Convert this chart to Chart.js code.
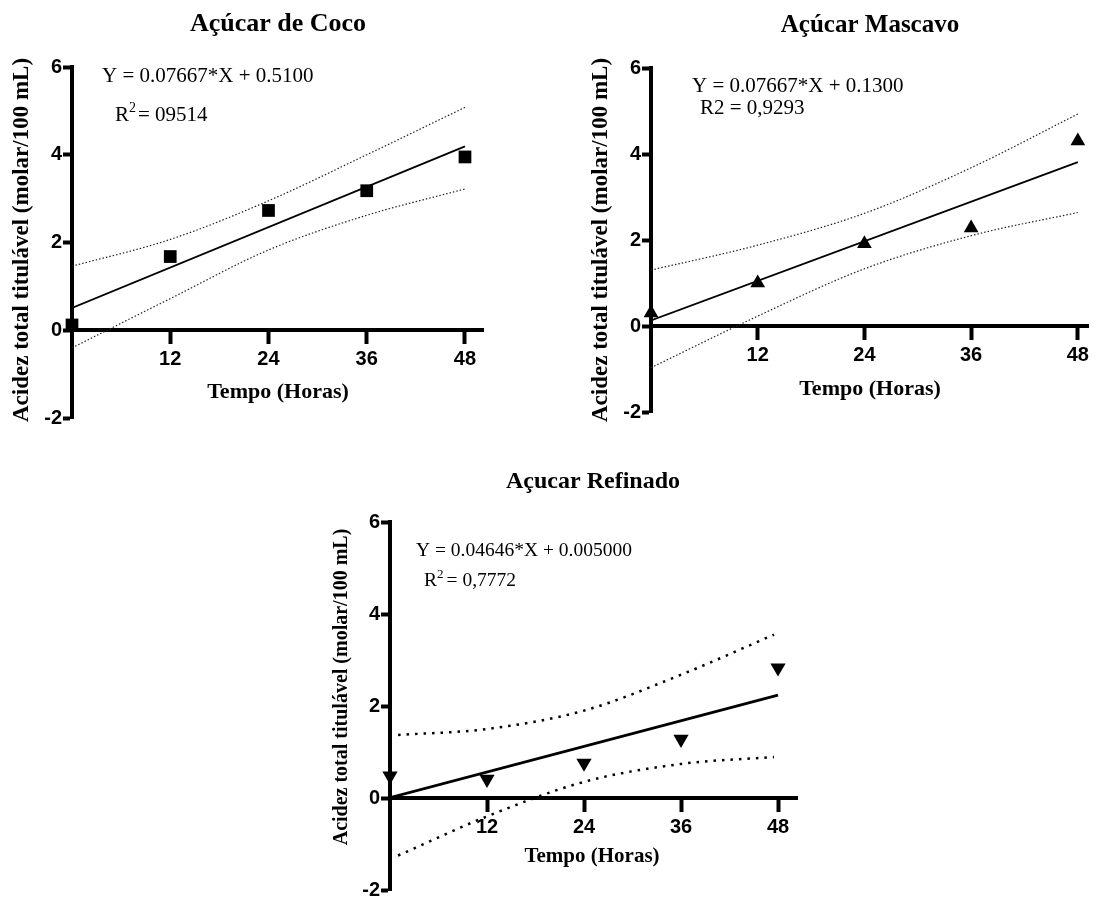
<!DOCTYPE html>
<html>
<head>
<meta charset="utf-8">
<script src="https://cdn.jsdelivr.net/npm/chart.js@4.4.0/dist/chart.umd.min.js"></script>
<style>
  html, body { margin: 0; padding: 0; background: #fff; overflow: hidden; }
  body { width: 1097px; height: 898px; position: relative; }
  canvas { position: absolute; }
</style>
</head>
<body>
<canvas id="coco" width="500" height="440" style="left:0;top:0"></canvas>
<canvas id="mascavo" width="542" height="440" style="left:555px;top:0"></canvas>
<canvas id="refinado" width="520" height="470" style="left:300px;top:440px"></canvas>
<script>
// shared axes
const hours = [0, 12, 24, 36, 48];
const fitX = [0, 48];
const xTicks = [12, 24, 36, 48];
const yTicks = [-2, 0, 2, 4, 6];

// Açúcar de Coco
const cocoAcid = [0.12, 1.68, 2.73, 3.18, 3.95];
const cocoFit = [0.51, 4.19];
const cocoBandX = [0, 12, 24, 36, 48];
const cocoUpper = [1.46, 2.07, 2.95, 4.00, 5.08];
const cocoLower = [-0.40, 0.72, 1.83, 2.62, 3.22];

// Açúcar Mascavo
const mascavoAcid = [0.30, 1.00, 1.91, 2.28, 4.30];
const mascavoFit = [0.13, 3.81];
const mascavoBandX = [0, 12, 24, 36, 48];
const mascavoUpper = [1.30, 1.88, 2.62, 3.68, 4.93];
const mascavoLower = [-0.97, 0.23, 1.33, 2.10, 2.64];

// Açucar Refinado
const refinadoAcid = [0.48, 0.41, 0.76, 1.28, 2.83];
const refinadoFit = [0.005, 2.235];
const refinadoBandX = [1, 12, 24, 36, 47.5];
const refinadoUpper = [1.37, 1.50, 1.90, 2.68, 3.55];
const refinadoLower = [-1.25, -0.40, 0.35, 0.74, 0.89];

const SERIF = "'Liberation Serif', 'Times New Roman', serif";
const SANS = "'Liberation Sans', Arial, sans-serif";

const pts = (xs, ys) => xs.map((x, i) => ({ x, y: ys[i] }));

// draws titles, axis titles and the equations
const textPlugin = {
  id: 'texts',
  afterDraw(chart, args, opts) {
    const ctx = chart.ctx;
    ctx.save();
    ctx.fillStyle = '#000';
    for (const t of opts.items) {
      if (t.rotate) {
        ctx.save();
        ctx.translate(t.x, t.y);
        ctx.rotate(-Math.PI / 2);
        ctx.font = t.font;
        ctx.textAlign = 'center';
        ctx.textBaseline = 'middle';
        ctx.fillText(t.text, 0, 0);
        ctx.restore();
      } else if (t.runs) {
        let x = t.x;
        ctx.textAlign = 'left';
        ctx.textBaseline = 'alphabetic';
        for (const [txt, size, rise, gap] of t.runs) {
          ctx.font = size + 'px ' + SERIF;
          ctx.fillText(txt, x, t.y - (rise || 0));
          x += ctx.measureText(txt).width + (gap || 0);
        }
      } else {
        ctx.font = t.font;
        ctx.textAlign = t.align || 'left';
        ctx.textBaseline = 'alphabetic';
        ctx.fillText(t.text, t.x, t.y);
      }
    }
    ctx.restore();
  }
};

function makeChart(id, c) {
  const axisBase = {
    border: { display: true, color: '#000', width: 4 },
    ticks: { color: '#000', font: { family: SANS, weight: 'bold', size: 20 } }
  };
  new Chart(document.getElementById(id), {
    type: 'scatter',
    data: {
      datasets: [
        { data: pts(hours, c.acid), pointStyle: c.marker, rotation: c.rot, pointRadius: c.r,
          backgroundColor: '#000', borderColor: '#000', borderWidth: 0, clip: false },
        { data: pts(fitX, c.fit), showLine: true, pointRadius: 0, borderColor: '#000', borderWidth: c.fitWidth },
        { data: pts(c.bandX, c.upper), showLine: true, pointRadius: 0, borderColor: c.dotColor,
          borderWidth: c.dotWidth, borderDash: c.dash, cubicInterpolationMode: 'monotone' },
        { data: pts(c.bandX, c.lower), showLine: true, pointRadius: 0, borderColor: c.dotColor,
          borderWidth: c.dotWidth, borderDash: c.dash, cubicInterpolationMode: 'monotone', clip: false }
      ]
    },
    options: {
      responsive: false,
      animation: false,
      events: [],
      layout: { padding: c.pad },
      plugins: { legend: { display: false }, tooltip: { enabled: false }, texts: { items: c.texts } },
      scales: {
        x: {
          ...axisBase, type: 'linear', min: 0, max: c.xMax, position: { y: 0 },
          afterBuildTicks: s => { s.ticks = xTicks.map(v => ({ value: v })); },
          afterFit: s => { s.paddingLeft = 0; s.paddingRight = 0; },
          grid: { drawOnChartArea: false, drawTicks: true, tickLength: 12, tickWidth: 4, tickColor: '#000' },
          ticks: { ...axisBase.ticks, padding: 5, maxRotation: 0, autoSkip: false }
        },
        y: {
          ...axisBase, type: 'linear', min: -2, max: 6, position: 'left',
          afterBuildTicks: s => { s.ticks = yTicks.map(v => ({ value: v })); },
          afterFit: s => { s.width = 72; s.paddingTop = 0; s.paddingBottom = 0; },
          grid: { drawOnChartArea: false, drawTicks: true, tickLength: 9, tickWidth: 4, tickColor: '#000' },
          ticks: { ...axisBase.ticks, padding: 1 }
        }
      }
    },
    plugins: [textPlugin]
  });
}

const yTitle = 'Acidez total titulável (molar/100 mL)';

makeChart('coco', {
  acid: cocoAcid, fit: cocoFit, bandX: cocoBandX, upper: cocoUpper, lower: cocoLower,
  marker: 'rect', rot: 0, r: 9, fitWidth: 1.8, dotColor: '#222', dotWidth: 1.2, dash: [1.5, 2],
  xMax: 50.2, pad: { left: 0, right: 17, top: 67, bottom: 22 },
  texts: [
    { text: 'Açúcar de Coco', x: 278, y: 31, font: 'bold 26px ' + SERIF, align: 'center' },
    { text: yTitle, x: 22, y: 240, font: 'bold 23px ' + SERIF, rotate: true },
    { text: 'Tempo (Horas)', x: 278, y: 398, font: 'bold 22px ' + SERIF, align: 'center' },
    { x: 102, y: 82, runs: [['Y = 0.07667*X + 0.5100', 21]] },
    { x: 115, y: 121, runs: [['R', 21], ['2', 14, 9, 2], ['= 09514', 21]] }
  ]
});

makeChart('mascavo', {
  acid: mascavoAcid, fit: mascavoFit, bandX: mascavoBandX, upper: mascavoUpper, lower: mascavoLower,
  marker: 'triangle', rot: 0, r: 8.5, fitWidth: 1.8, dotColor: '#222', dotWidth: 1.2, dash: [1.5, 2],
  xMax: 49.2, pad: { left: 24, right: 0, top: 68, bottom: 28 },
  texts: [
    { text: 'Açúcar Mascavo', x: 315, y: 32, font: 'bold 25px ' + SERIF, align: 'center' },
    { text: yTitle, x: 46, y: 240, font: 'bold 23px ' + SERIF, rotate: true },
    { text: 'Tempo (Horas)', x: 315, y: 395, font: 'bold 22px ' + SERIF, align: 'center' },
    { x: 137, y: 92, runs: [['Y = 0.07667*X + 0.1300', 21]] },
    { x: 145, y: 114, runs: [['R2 = 0,9293', 21]] }
  ]
});

makeChart('refinado', {
  acid: refinadoAcid, fit: refinadoFit, bandX: refinadoBandX, upper: refinadoUpper, lower: refinadoLower,
  marker: 'triangle', rot: 180, r: 8.8, fitWidth: 2.8, dotColor: '#000', dotWidth: 2.5, dash: [2.5, 6],
  xMax: 50.35, pad: { left: 18, right: 23, top: 82, bottom: 20 },
  texts: [
    { text: 'Açucar Refinado', x: 293, y: 48, font: 'bold 24px ' + SERIF, align: 'center' },
    { text: yTitle, x: 42, y: 247, font: 'bold 20px ' + SERIF, rotate: true },
    { text: 'Tempo (Horas)', x: 292, y: 422, font: 'bold 21px ' + SERIF, align: 'center' },
    { x: 116, y: 116, runs: [['Y = 0.04646*X + 0.005000', 19.5]] },
    { x: 124, y: 146, runs: [['R', 19.5], ['2', 13, 8, 3], ['= 0,7772', 19.5]] }
  ]
});
</script>
</body>
</html>
